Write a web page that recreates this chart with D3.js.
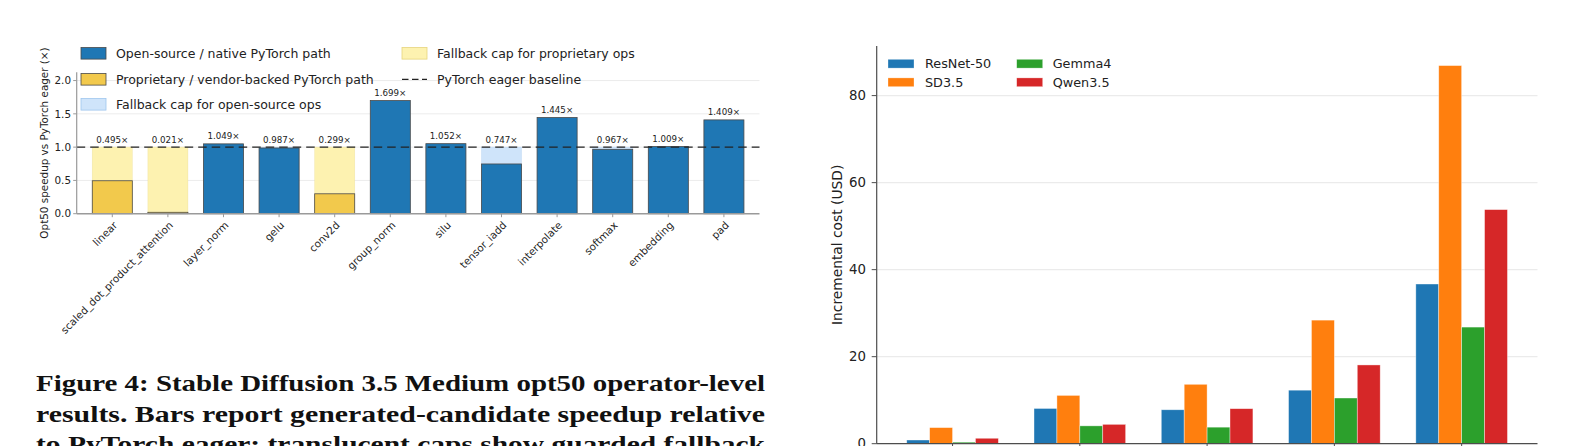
<!DOCTYPE html>
<html><head><meta charset="utf-8">
<script src="https://cdn.jsdelivr.net/npm/d3@7"></script>
<style>html,body{margin:0;padding:0;background:#fff;overflow:hidden}</style>
</head><body>
<svg id="c" width="1584" height="446" xmlns="http://www.w3.org/2000/svg"></svg>
<script>
// ---------- DATA (left panel) ----------
const ops = ["linear","scaled_dot_product_attention","layer_norm","gelu","conv2d","group_norm","silu","tensor_iadd","interpolate","softmax","embedding","pad"];
const speedups = [0.495,0.021,1.049,0.987,0.299,1.699,1.052,0.747,1.445,0.967,1.009,1.409];
const opPaths = ["proprietary","proprietary","open","open","proprietary","open","open","open","open","open","open","open"];
const speedTicks = [0,0.5,1.0,1.5,2.0];
const leftLegendLabels = ["Open-source / native PyTorch path","Proprietary / vendor-backed PyTorch path","Fallback cap for open-source ops","Fallback cap for proprietary ops","PyTorch eager baseline"];
const leftYLabel = "Opt50 speedup vs PyTorch eager (×)";

// ---------- DATA (right panel) ----------
const costGroups = ["g1","g2","g3","g4","g5"];
const costSeries = ["ResNet-50","SD3.5","Gemma4","Qwen3.5"];
const costResNet = [0.85, 8.1, 7.8, 12.3, 36.7];
const costSD35   = [3.7, 11.1, 13.65, 28.4, 86.9];
const costGemma4 = [0.35, 4.1, 3.8, 10.5, 26.8];
const costQwen35 = [1.25, 4.45, 8.05, 18.1, 53.8];
const costTicks = [0,20,40,60,80];
const rightYLabel = "Incremental cost (USD)";

// ---------- DATA (caption) ----------
const captionLines = [
  "Figure 4: Stable Diffusion 3.5 Medium opt50 operator-level",
  "results. Bars report generated-candidate speedup relative",
  "to PyTorch eager; translucent caps show guarded fallback"
];

// ---------- STYLE ----------
const FONT = "DejaVu Sans, sans-serif";
const C = {
  open:"#1f77b4", proprietary:"#f2c94c",
  capOpen:"#cfe4fa", capProp:"#fdf2b0",
  capOpenEdge:"#a9cbee", capPropEdge:"#eadb8c",
  edge:"#4a4a4a", grid:"#ececec", spineL:"#9a9a9a", spineR:"#4d4d4d", text:"#222"
};
const seriesColors = ["#1f77b4","#ff7f0e","#2ca02c","#d62728"];

const svg = d3.select("#c");

// ================= LEFT PANEL =================
const L = svg.append("g");
const xL = d3.scaleLinear().domain([-0.64, 11.64]).range([76.7, 759.5]);
const yL = d3.scaleLinear().domain([0, 2.124]).range([213.7, 72.3]);
const bwL = 0.72;

L.selectAll("line.grid").data(speedTicks.filter(t => t > 0)).join("line")
  .attr("x1", xL.range()[0]).attr("x2", xL.range()[1])
  .attr("y1", d => yL(d)).attr("y2", d => yL(d))
  .attr("stroke", C.grid).attr("stroke-width", 1);

L.selectAll("rect.cap").data(ops).join("rect")
  .attr("x", (d,i) => xL(i - bwL/2)).attr("width", xL(bwL) - xL(0))
  .attr("y", yL(1)).attr("height", yL(0) - yL(1))
  .attr("fill", (d,i) => opPaths[i] === "proprietary" ? C.capProp : C.capOpen)
  .attr("stroke", (d,i) => opPaths[i] === "proprietary" ? C.capPropEdge : C.capOpenEdge)
  .attr("stroke-width", 0.6).attr("stroke-opacity", 0.5);

L.selectAll("rect.bar").data(speedups).join("rect")
  .attr("x", (d,i) => xL(i - bwL/2)).attr("width", xL(bwL) - xL(0))
  .attr("y", d => yL(d)).attr("height", d => yL(0) - yL(d))
  .attr("fill", (d,i) => opPaths[i] === "proprietary" ? C.proprietary : C.open)
  .attr("stroke", C.edge).attr("stroke-width", 0.8);

L.append("line")
  .attr("x1", xL.range()[0]).attr("x2", xL.range()[1])
  .attr("y1", yL(1)).attr("y2", yL(1))
  .attr("stroke", "#222").attr("stroke-width", 1.3).attr("stroke-dasharray", "8.5,5");

L.selectAll("text.val").data(speedups).join("text")
  .attr("x", (d,i) => xL(i)).attr("y", d => yL(Math.max(d, 1)) - 4.5)
  .attr("text-anchor", "middle").attr("font-family", FONT).attr("font-size", 8.7)
  .attr("fill", C.text).text(d => d3.format(".3f")(d) + "×");

L.append("line").attr("x1", 76.7).attr("x2", 76.7).attr("y1", yL.range()[1]).attr("y2", yL.range()[0])
  .attr("stroke", C.spineL).attr("stroke-width", 1.2);
L.append("line").attr("x1", xL.range()[0]).attr("x2", xL.range()[1]).attr("y1", yL(0)).attr("y2", yL(0))
  .attr("stroke", C.spineL).attr("stroke-width", 1.5);

L.selectAll("line.yt").data(speedTicks).join("line")
  .attr("x1", 73.2).attr("x2", 76.7).attr("y1", d => yL(d)).attr("y2", d => yL(d))
  .attr("stroke", C.spineL).attr("stroke-width", 1);
L.selectAll("text.yt").data(speedTicks).join("text")
  .attr("x", 71).attr("y", d => yL(d)).attr("dy", "0.36em")
  .attr("text-anchor", "end").attr("font-family", FONT).attr("font-size", 10.4)
  .attr("fill", C.text).text(d => d3.format(".1f")(d));

L.selectAll("line.xt").data(ops).join("line")
  .attr("x1", (d,i) => xL(i)).attr("x2", (d,i) => xL(i))
  .attr("y1", yL(0)).attr("y2", yL(0) + 3.5)
  .attr("stroke", C.spineL).attr("stroke-width", 1);
L.selectAll("text.xt").data(ops).join("text")
  .attr("transform", (d,i) => `translate(${xL(i)},${yL(0) + 6.5}) rotate(-45)`)
  .attr("dy", "0.78em").attr("text-anchor", "end")
  .attr("font-family", FONT).attr("font-size", 10.4).attr("fill", C.text).text(d => d);

L.append("text").attr("transform", `translate(47.5,${(yL.range()[0] + yL.range()[1]) / 2}) rotate(-90)`)
  .attr("text-anchor", "middle").attr("font-family", FONT).attr("font-size", 10.4)
  .attr("fill", C.text).text(leftYLabel);

// legend (no opaque frame)
const LG = svg.append("g");
const legItems = [
  {type:"patch", fill:C.open, stroke:C.edge, col:0, row:0},
  {type:"patch", fill:C.proprietary, stroke:C.edge, col:0, row:1},
  {type:"patch", fill:C.capOpen, stroke:"#9fc6ee", col:0, row:2},
  {type:"patch", fill:C.capProp, stroke:"#e6d47e", col:1, row:0},
  {type:"line", col:1, row:1}
];
const legColX = [81, 402], legTextX = [116, 437], legRowY = [53.3, 79.3, 104.3];
legItems.forEach((it, k) => {
  const x = legColX[it.col], y = legRowY[it.row];
  if (it.type === "patch") {
    LG.append("rect").attr("x", x).attr("y", y - 5.8).attr("width", 25).attr("height", 11.6)
      .attr("fill", it.fill).attr("stroke", it.stroke).attr("stroke-width", 0.8);
  } else {
    LG.append("line").attr("x1", x).attr("x2", x + 25).attr("y1", y).attr("y2", y)
      .attr("stroke", "#222").attr("stroke-width", 1.3).attr("stroke-dasharray", "6.5,3.5");
  }
  LG.append("text").attr("x", legTextX[it.col]).attr("y", y).attr("dy", "0.36em")
    .attr("font-family", FONT).attr("font-size", 12.5).attr("fill", C.text).text(leftLegendLabels[k]);
});

// ================= RIGHT PANEL =================
const R = svg.append("g");
const xR = d3.scaleLinear().domain([-0.596, 4.596]).range([876.7, 1537.5]);
const yR = d3.scaleLinear().domain([0, 91.4]).range([443.7, 46]);
const bwR = 0.18;
const costValues = [costResNet, costSD35, costGemma4, costQwen35];

R.selectAll("line.grid").data(costTicks.filter(t => t > 0)).join("line")
  .attr("x1", xR.range()[0]).attr("x2", xR.range()[1])
  .attr("y1", d => yR(d)).attr("y2", d => yR(d))
  .attr("stroke", "#ebebeb").attr("stroke-width", 1.3);

costValues.forEach((vals, j) => {
  R.selectAll(`rect.s${j}`).data(vals).join("rect")
    .attr("x", (d,i) => xR(i + (j - 1.5) * bwR - bwR/2)).attr("width", xR(bwR) - xR(0))
    .attr("y", d => yR(d)).attr("height", d => yR(0) - yR(d))
    .attr("fill", seriesColors[j]).attr("stroke", "#fff").attr("stroke-width", 0.7).attr("stroke-opacity", 0.55);
});

R.append("line").attr("x1", xR.range()[0]).attr("x2", xR.range()[0]).attr("y1", yR.range()[1]).attr("y2", yR.range()[0])
  .attr("stroke", C.spineR).attr("stroke-width", 1.2);
R.append("line").attr("x1", xR.range()[0]).attr("x2", xR.range()[1]).attr("y1", yR(0)).attr("y2", yR(0))
  .attr("stroke", C.spineR).attr("stroke-width", 1.2);

R.selectAll("line.yt").data(costTicks).join("line")
  .attr("x1", xR.range()[0] - 5).attr("x2", xR.range()[0]).attr("y1", d => yR(d)).attr("y2", d => yR(d))
  .attr("stroke", C.spineR).attr("stroke-width", 1);
R.selectAll("text.yt").data(costTicks).join("text")
  .attr("x", 866).attr("y", d => yR(d)).attr("dy", "0.36em").attr("text-anchor", "end")
  .attr("font-family", FONT).attr("font-size", 13.3).attr("fill", C.text).text(d => d);

R.selectAll("line.xt").data(costGroups).join("line")
  .attr("x1", (d,i) => xR(i)).attr("x2", (d,i) => xR(i))
  .attr("y1", yR(0)).attr("y2", yR(0) + 5)
  .attr("stroke", C.spineR).attr("stroke-width", 1);

R.append("text").attr("transform", `translate(841.5,${(yR.range()[0] + yR.range()[1]) / 2}) rotate(-90)`)
  .attr("text-anchor", "middle").attr("font-family", FONT).attr("font-size", 13.8)
  .attr("fill", C.text).text(rightYLabel);

const rLegX = [888, 1016.7], rLegTX = [925, 1052.7], rLegY = [63.7, 82.3];
costSeries.forEach((s, j) => {
  const col = Math.floor(j / 2), row = j % 2;
  R.append("rect").attr("x", rLegX[col]).attr("y", rLegY[row] - 4.4).attr("width", 26).attr("height", 8.8)
    .attr("fill", seriesColors[j]).attr("stroke", "#fff").attr("stroke-width", 0.6).attr("stroke-opacity", 0.5);
  R.append("text").attr("x", rLegTX[col]).attr("y", rLegY[row]).attr("dy", "0.36em")
    .attr("font-family", FONT).attr("font-size", 12.8).attr("fill", C.text).text(s);
});

// ================= CAPTION =================
const capX0 = 36, capX1 = 765, capY0 = 391, capLH = 30.5;
captionLines.forEach((line, k) => {
  const t = svg.append("text").attr("x", capX0).attr("y", capY0 + k * capLH)
    .attr("font-family", "Liberation Serif, serif").attr("font-weight", "bold")
    .attr("font-size", 22.5).attr("fill", "#111").text(line);
  t.attr("textLength", capX1 - capX0).attr("lengthAdjust", "spacingAndGlyphs");
});
</script>
</body></html>
